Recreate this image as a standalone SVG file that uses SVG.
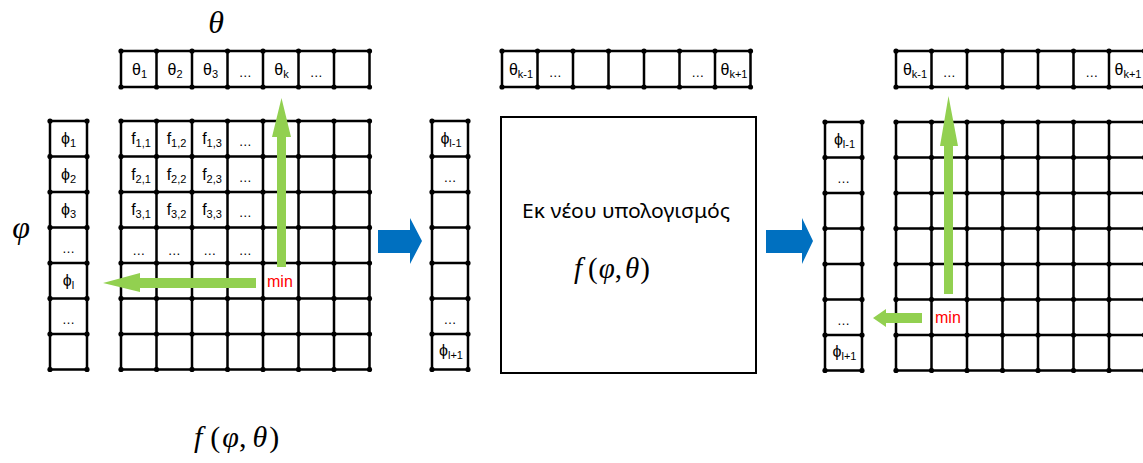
<svg xmlns="http://www.w3.org/2000/svg" width="1143" height="463" viewBox="0 0 1143 463">
  <style>
    .grid { fill: none; stroke: #000; stroke-width: 2.5; }
    .dots { marker-start: url(#dot); marker-mid: url(#dot); marker-end: url(#dot); }
    .cell { font-family: "Liberation Sans", "DejaVu Sans", Arial, sans-serif; font-size: 16px; fill: #000; text-anchor: middle; }
    .sub { font-size: 11px; }
    .ell { font-size: 13px; }
    .math { font-family: "Liberation Serif", "Times New Roman", serif; fill: #000; }
    .it { font-style: italic; }
    .min { font-family: "Liberation Sans", Arial, sans-serif; font-size: 16px; fill: #FF0000; }
    .green { fill: #92D050; }
    .blue { fill: #0070C0; }
  </style>
  <defs>
    <marker id="dot" markerUnits="userSpaceOnUse" markerWidth="6" markerHeight="6" refX="3" refY="3">
      <circle cx="3" cy="3" r="2.6" fill="#000"/>
    </marker>
  </defs>
  <rect width="1143" height="463" fill="#fff"/>

  <!-- axis symbols -->
  <g id="theta-symbol">
    <text class="math it" x="216" y="33" font-size="32" text-anchor="middle">θ</text>
  </g>
  <g id="phi-symbol">
    <text class="math it" x="21" y="238" font-size="32" text-anchor="middle">φ</text>
  </g>

  <!-- theta row, first stage -->
  <g id="theta-row-1">
    <path class="grid dots" d="M121 51H156.5H192H227.5H263H298.5H334H369.5M121 87H156.5H192H227.5H263H298.5H334H369.5"/>
    <path class="grid" d="M121 51V87M156.5 51V87M192 51V87M227.5 51V87M263 51V87M298.5 51V87M334 51V87M369.5 51V87"/>
    <text class="cell" x="139.5" y="75">θ<tspan class="sub" dy="3">1</tspan></text>
    <text class="cell" x="175" y="75">θ<tspan class="sub" dy="3">2</tspan></text>
    <text class="cell" x="210.5" y="75">θ<tspan class="sub" dy="3">3</tspan></text>
    <text class="cell ell" x="245.25" y="77">…</text>
    <text class="cell" x="281.5" y="75">θ<tspan class="sub" dy="3">k</tspan></text>
    <text class="cell ell" x="316.25" y="77">…</text>
  </g>

  <!-- phi column, first stage -->
  <g id="phi-col-1">
    <path class="grid dots" d="M50 121H87M50 156.5H87M50 192H87M50 227.5H87M50 263H87M50 298.5H87M50 334H87M50 369.5H87"/>
    <path class="grid" d="M50 121V369.5M87 121V369.5"/>
    <text class="cell" x="68.5" y="144">ϕ<tspan class="sub" dy="3">1</tspan></text>
    <text class="cell" x="68.5" y="179.5">ϕ<tspan class="sub" dy="3">2</tspan></text>
    <text class="cell" x="68.5" y="215">ϕ<tspan class="sub" dy="3">3</tspan></text>
    <text class="cell ell" x="68.5" y="253">…</text>
    <text class="cell" x="68.5" y="286">ϕ<tspan class="sub" dy="3">l</tspan></text>
    <text class="cell ell" x="68.5" y="324">…</text>
  </g>

  <!-- value grid f(phi, theta), first stage -->
  <g id="grid-1">
    <path class="grid dots" d="M121 121H156.5H192H227.5H263H298.5H334H369.5M121 156.5H156.5H192H227.5H263H298.5H334H369.5M121 192H156.5H192H227.5H263H298.5H334H369.5M121 227.5H156.5H192H227.5H263H298.5H334H369.5M121 263H156.5H192H227.5H263H298.5H334H369.5M121 298.5H156.5H192H227.5H263H298.5H334H369.5M121 334H156.5H192H227.5H263H298.5H334H369.5M121 369.5H156.5H192H227.5H263H298.5H334H369.5"/>
    <path class="grid" d="M121 121V369.5M156.5 121V369.5M192 121V369.5M227.5 121V369.5M263 121V369.5M298.5 121V369.5M334 121V369.5M369.5 121V369.5"/>
    <text class="cell" x="141" y="144">f<tspan class="sub" dy="3">1,1</tspan></text>
    <text class="cell" x="176.5" y="144">f<tspan class="sub" dy="3">1,2</tspan></text>
    <text class="cell" x="212" y="144">f<tspan class="sub" dy="3">1,3</tspan></text>
    <text class="cell ell" x="245.25" y="146">…</text>
    <text class="cell" x="141" y="179.5">f<tspan class="sub" dy="3">2,1</tspan></text>
    <text class="cell" x="176.5" y="179.5">f<tspan class="sub" dy="3">2,2</tspan></text>
    <text class="cell" x="212" y="179.5">f<tspan class="sub" dy="3">2,3</tspan></text>
    <text class="cell ell" x="245.25" y="182">…</text>
    <text class="cell" x="141" y="215">f<tspan class="sub" dy="3">3,1</tspan></text>
    <text class="cell" x="176.5" y="215">f<tspan class="sub" dy="3">3,2</tspan></text>
    <text class="cell" x="212" y="215">f<tspan class="sub" dy="3">3,3</tspan></text>
    <text class="cell ell" x="245.25" y="217">…</text>
    <text class="cell ell" x="138.75" y="255">…</text>
    <text class="cell ell" x="174.25" y="255">…</text>
    <text class="cell ell" x="209.75" y="255">…</text>
    <text class="cell ell" x="245.25" y="255">…</text>
    <text class="min" x="267" y="287">min</text>
  </g>

  <!-- function label under the first grid -->
  <g id="formula-1">
    <text class="math" x="194" y="447" font-size="30"><tspan class="it">f</tspan><tspan dx="8">(</tspan><tspan class="it" dx="2">φ</tspan>,<tspan class="it" dx="6">θ</tspan><tspan dx="2">)</tspan></text>
  </g>

  <!-- theta row, second stage -->
  <g id="theta-row-2">
    <path class="grid dots" d="M502 51H537.5H573H608.5H644H679.5H715H750.5M502 87H537.5H573H608.5H644H679.5H715H750.5"/>
    <path class="grid" d="M502 51V87M537.5 51V87M573 51V87M608.5 51V87M644 51V87M679.5 51V87M715 51V87M750.5 51V87"/>
    <text class="cell" x="521" y="75">θ<tspan class="sub" dy="3">k-1</tspan></text>
    <text class="cell ell" x="555.25" y="77">…</text>
    <text class="cell ell" x="697.75" y="77">…</text>
    <text class="cell" x="734" y="75">θ<tspan class="sub" dy="3">k+1</tspan></text>
  </g>

  <!-- phi column, second stage -->
  <g id="phi-col-2">
    <path class="grid dots" d="M432 121H468M432 156.5H468M432 192H468M432 227.5H468M432 263H468M432 298.5H468M432 334H468M432 369.5H468"/>
    <path class="grid" d="M432 121V369.5M468 121V369.5"/>
    <text class="cell" x="451" y="144">ϕ<tspan class="sub" dy="3">l-1</tspan></text>
    <text class="cell ell" x="450" y="182">…</text>
    <text class="cell ell" x="450" y="324">…</text>
    <text class="cell" x="451" y="356">ϕ<tspan class="sub" dy="3">l+1</tspan></text>
  </g>

  <!-- recomputation box -->
  <g id="recompute-box">
    <rect x="501" y="117" width="255" height="256" fill="#fff" stroke="#000" stroke-width="2"/>
    <text x="626" y="218" font-family="Noto Sans, Liberation Sans, sans-serif" font-size="19" text-anchor="middle" textLength="208" lengthAdjust="spacingAndGlyphs">Εκ νέου υπολογισμός</text>
    <text class="math" x="574" y="278" font-size="29"><tspan class="it">f</tspan><tspan dx="6">(</tspan><tspan class="it" dx="1">φ</tspan>,<tspan class="it" dx="3">θ</tspan><tspan dx="1">)</tspan></text>
  </g>

  <!-- theta row, third stage -->
  <g id="theta-row-3">
    <path class="grid dots" d="M896 51H931.5H967H1002.5H1038H1073.5H1109H1144.5M896 87H931.5H967H1002.5H1038H1073.5H1109H1144.5"/>
    <path class="grid" d="M896 51V87M931.5 51V87M967 51V87M1002.5 51V87M1038 51V87M1073.5 51V87M1109 51V87M1144.5 51V87"/>
    <text class="cell" x="915" y="75">θ<tspan class="sub" dy="3">k-1</tspan></text>
    <text class="cell ell" x="949.25" y="77">…</text>
    <text class="cell ell" x="1091.75" y="77">…</text>
    <text class="cell" x="1128" y="75">θ<tspan class="sub" dy="3">k+1</tspan></text>
  </g>

  <!-- phi column, third stage -->
  <g id="phi-col-3">
    <path class="grid dots" d="M825 122H862M825 157.5H862M825 193H862M825 228.5H862M825 264H862M825 299.5H862M825 335H862M825 370.5H862"/>
    <path class="grid" d="M825 122V370.5M862 122V370.5"/>
    <text class="cell" x="844.5" y="145">ϕ<tspan class="sub" dy="3">l-1</tspan></text>
    <text class="cell ell" x="843.5" y="183">…</text>
    <text class="cell ell" x="843.5" y="325">…</text>
    <text class="cell" x="844.5" y="357">ϕ<tspan class="sub" dy="3">l+1</tspan></text>
  </g>

  <!-- value grid, third stage -->
  <g id="grid-3">
    <path class="grid dots" d="M896 122H931.5H967H1002.5H1038H1073.5H1109H1144.5M896 157.5H931.5H967H1002.5H1038H1073.5H1109H1144.5M896 193H931.5H967H1002.5H1038H1073.5H1109H1144.5M896 228.5H931.5H967H1002.5H1038H1073.5H1109H1144.5M896 264H931.5H967H1002.5H1038H1073.5H1109H1144.5M896 299.5H931.5H967H1002.5H1038H1073.5H1109H1144.5M896 335H931.5H967H1002.5H1038H1073.5H1109H1144.5M896 370.5H931.5H967H1002.5H1038H1073.5H1109H1144.5"/>
    <path class="grid" d="M896 122V370.5M931.5 122V370.5M967 122V370.5M1002.5 122V370.5M1038 122V370.5M1073.5 122V370.5M1109 122V370.5M1144.5 122V370.5"/>
    <text class="min" x="935" y="323">min</text>
  </g>

  <!-- arrows -->
  <g id="connectors">
    <!-- column minimum up to theta row -->
    <polygon class="green" points="277,267 286,267 286,137 291,137 281.5,98 272,137 277,137"/>
    <!-- row minimum left to phi column -->
    <polygon class="green" points="256,278 256,288 140,288 140,292 103,283 140,273 140,278"/>
    <!-- stage transitions -->
    <polygon class="blue" points="378,230 410,230 410,218 422,241 410,264 410,253 378,253"/>
    <polygon class="blue" points="766,230 802,230 802,218 813,241 802,264 802,253 766,253"/>
    <!-- third stage minimum arrows -->
    <polygon class="green" points="944,294 953,294 953,146 958,146 948.5,96 940,146 944,146"/>
    <polygon class="green" points="922,313 922,323 886,323 886,327 873,318 886,309 886,313"/>
  </g>
</svg>
